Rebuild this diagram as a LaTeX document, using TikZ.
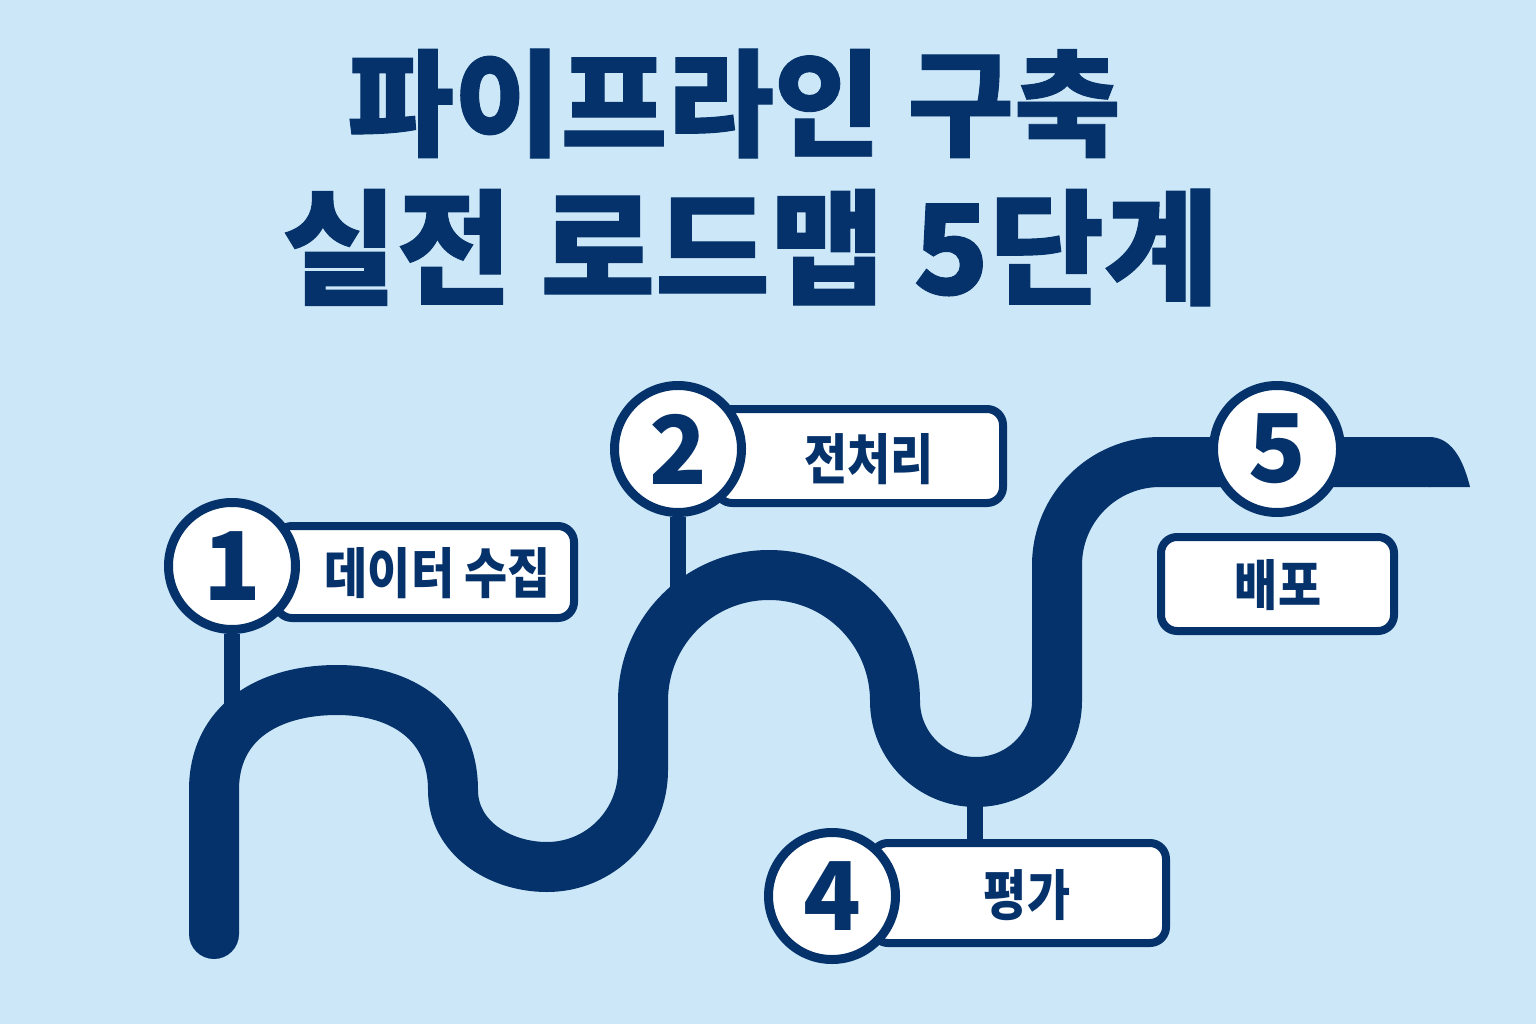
\documentclass[tikz,border=0pt]{standalone}
\usepackage{fontspec}
\newfontfamily\krfont{Noto Sans CJK KR}[FakeStretch=0.86]
\newfontfamily\titlefont{Noto Sans CJK KR}[FakeBold=0.8]
\newfontfamily\numfont{Noto Sans CJK KR}
\definecolor{navy}{HTML}{05326A}
\definecolor{skyback}{HTML}{CCE8F8}
\pgfdeclarelayer{back}
\pgfdeclarelayer{road}
\pgfsetlayers{back,road,main}
\tikzset{
  tag/.style={draw=navy,fill=white,line width=1.6mm,rounded corners=3.2mm,inner sep=0pt},
  tagtext/.style={text=navy,inner sep=0pt,font=\krfont\bfseries\fontsize{31}{36}\selectfont},
  stage/.style={circle,draw=navy,fill=white,line width=1.8mm,minimum size=25.4mm,inner sep=0pt,
    text=navy,font=\numfont\bfseries\fontsize{54}{60}\selectfont},
  stem/.style={navy,line width=3.2mm},
  road/.style={navy,line width=10mm,line join=round},
}

\begin{document}
\begin{tikzpicture}
    \begin{pgfonlayer}{back}
        \fill[skyback] (0,0) rectangle (30.72,20.48);
    \end{pgfonlayer}
    % title
    \node[text=navy,font=\titlefont\bfseries\fontsize{66}{76}\selectfont] (title1) at (14.68,18.41) {파이프라인 구축};
    \node[text=navy,font=\titlefont\bfseries\fontsize{71}{82}\selectfont] (title2) at (15.01,15.53) {실전 로드맵 5단계};
    % labels
    \node[tag,minimum width=5.96cm,minimum height=1.84cm] (b1) at (8.50,9.04) {};
    \node[tag,minimum width=5.74cm,minimum height=1.88cm] (b2) at (17.19,11.36) {};
    \node[tag,minimum width=5.88cm,minimum height=2.00cm] (b4) at (20.38,2.62) {};
    \node[tag,minimum width=4.66cm,minimum height=1.88cm] (b5) at (25.55,8.80) {};
    \node[tagtext] (t1) at (8.76,9.02) {데이터 수집};
    \node[tagtext] (t2) at (17.38,11.30) {전처리};
    \node[tagtext] (t4) at (20.54,2.58) {평가};
    \node[tagtext] (t5) at (25.56,8.78) {배포};
    % stages
    \node[stage] (c1) at (4.64,9.16) {1};
    \node[stage] (c2) at (13.56,11.50) {2};
    \node[stage] (c4) at (16.64,2.56) {4};
    \node[stage] (c5) at (25.54,11.50) {5};
    % road
    \coordinate (r1) at (4.70,6.08);
    \coordinate (r2) at (13.60,8.48);
    \coordinate (r4) at (19.50,4.68);
    \begin{pgfonlayer}{road}
        \draw[stem] (c1) -- (c1 |- r1);
        \draw[stem] (c2) -- (c2 |- r2);
        \draw[stem] (r4) -- (r4 |- b4.north);
        \draw[road] (4.28,1.80) -- (4.28,4.68) to[out=90,in=180,looseness=1.1] (6.74,6.68) to[out=0,in=90,looseness=1.1] (9.06,4.68)
            to[out=-90,in=180] (10.94,3.14) to[out=0,in=-90] (12.86,5.08) -- (12.86,6.46)
            arc[start angle=180,end angle=0,radius=2.52] arc[start angle=180,end angle=360,radius=1.62]
            -- (21.14,9.18) arc[start angle=180,end angle=90,radius=2.06] -- (28.60,11.24);
        \fill[navy] (4.28,1.80) circle (0.5);
        \fill[navy] (28.58,11.74) .. controls (29.00,11.74) and (29.25,11.35) .. (29.40,10.74) -- (28.58,10.74) -- cycle;
    \end{pgfonlayer}
\end{tikzpicture}
\end{document}
